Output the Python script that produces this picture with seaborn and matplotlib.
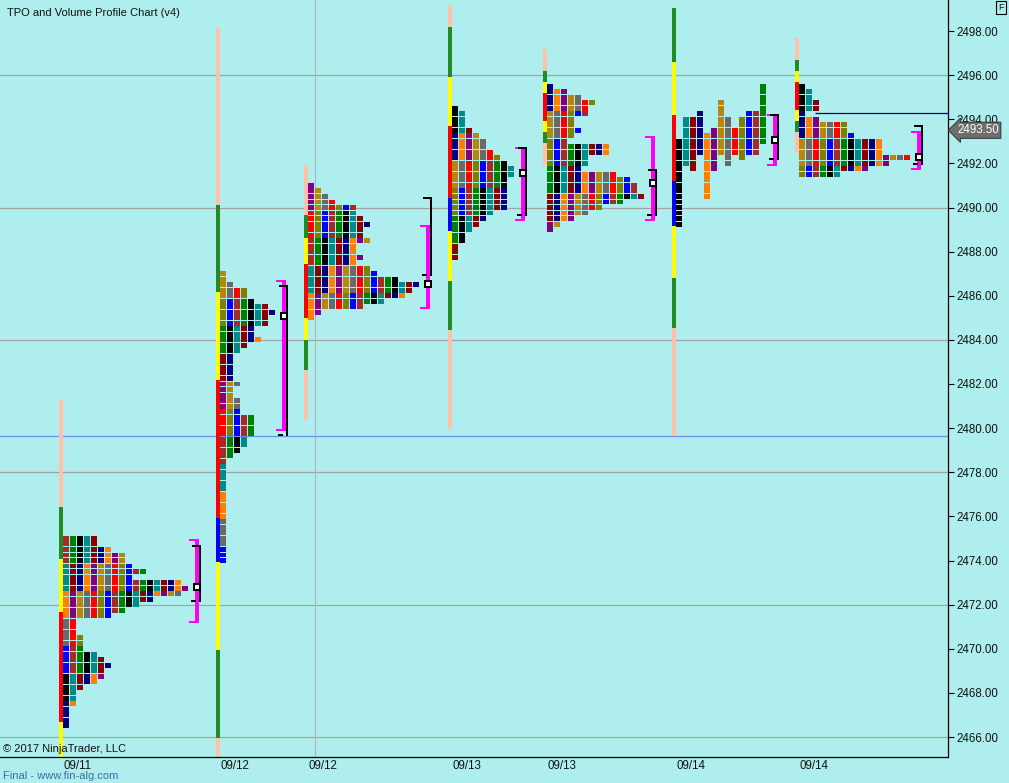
import numpy as np
import pandas as pd
import matplotlib
matplotlib.use("Agg")
import matplotlib.pyplot as plt
import matplotlib.transforms as mtransforms
from matplotlib.patches import Rectangle
import seaborn as sns

# ------------------------------------------------------------------ data
date_labels = ["09/11", "09/12", "09/12", "09/13", "09/13", "09/14", "09/14"]
price_ticks = list(range(2466, 2499, 2))

# TPO counts per 0.25 price row, listed from the top row down
p1_top = 2475.0
p1_counts = [5, 5, 7, 9, 9, 10, 12, 10, 17, 18, 17, 13, 11, 9, 7, 2, 2, 2, 3, 3, 3,
             5, 6, 7, 6, 6, 5, 3, 2, 2, 2, 1, 1, 1, 1]
p2_top = 2487.0
p2_counts = [1, 1, 2, 4, 4, 5, 7, 8, 7, 7, 5, 5, 6, 4, 3, 2, 2, 2, 2, 2, 3, 2, 2, 3, 3,
             3, 5, 5, 5, 5, 4, 4, 3, 2, 1, 1, 1, 1, 1, 1, 1, 1, 1, 1, 1, 1, 1, 1, 1,
             1, 1, 1, 1]
p3_top = 2491.0
p3_counts = [1, 2, 3, 4, 7, 7, 8, 9, 8, 8, 9, 7, 7, 8, 7, 9, 10, 13, 16, 15, 14, 11, 8, 2, 1]
p4_top = 2494.5
p4_counts = [1, 2, 2, 2, 3, 4, 5, 5, 6, 7, 8, 9, 9, 8, 8, 8, 8, 8, 8, 6, 5, 4, 3, 2, 2, 1, 1, 1]
p5_top = 2495.5
p5_counts = [1, 3, 5, 7, 6, 6, 4, 4, 5, 4, 3, 9, 9, 6, 6, 5, 10, 12, 13, 13, 14, 11, 8, 6, 4, 2, 1]
# 09/14 first session is drawn unsplit: one column per period (high / low)
p6_col_high = [2493.0, 2494.0, 2494.0, 2494.25, 2493.25, 2493.5, 2494.75, 2494.0, 2493.5,
               2494.0, 2494.25, 2494.25, 2495.5]
p6_col_low = [2489.25, 2492.0, 2491.75, 2492.5, 2490.5, 2491.75, 2492.5, 2492.0, 2492.5,
              2492.25, 2492.5, 2492.5, 2493.0]
p7_top = 2495.5
p7_counts = [1, 2, 2, 3, 3, 1, 3, 7, 7, 8, 12, 12, 12, 16, 13, 10, 6]

# value area (magenta), initial balance (black), point of control
va_high = [2474.97, 2486.71, 2489.21, 2492.74, 2493.24, 2494.24, 2493.47]
va_low = [2471.16, 2479.88, 2485.40, 2489.39, 2489.39, 2491.88, 2491.70]
ib_high = [2474.70, 2486.49, 2490.48, 2492.74, 2491.74, 2494.24, 2493.74]
ib_low = [2472.12, 2479.64, 2486.89, 2489.61, 2489.61, 2492.15, 2491.93]
poc = [2472.80, 2485.08, 2486.55, 2491.56, 2491.09, 2493.08, 2492.31]

# session bar segments (boundaries top->bottom, one colour key per segment)
bar_bounds = [
    [2481.27, 2476.42, 2474.07, 2471.66, 2466.68, 2465.0],
    [2498.14, 2490.11, 2486.17, 2482.18, 2475.92, 2473.93, 2469.94, 2465.95, 2465.0],
    [2491.93, 2489.66, 2488.62, 2487.44, 2484.99, 2483.99, 2482.63, 2480.37],
    [2499.18, 2498.18, 2495.91, 2493.69, 2490.43, 2488.93, 2486.67, 2484.45, 2479.96],
    [2497.18, 2496.19, 2495.69, 2495.19, 2493.92, 2493.42, 2492.92, 2491.93],
    [2499.04, 2496.59, 2494.19, 2491.20, 2489.16, 2486.80, 2484.54, 2479.69],
    [2497.68, 2496.69, 2496.19, 2495.69, 2494.42, 2493.92, 2493.42, 2492.47],
]
bar_keys = [
    ["S", "G", "Y", "R", "Y"],
    ["S", "G", "Y", "R", "B", "Y", "G", "S"],
    ["S", "G", "Y", "R", "Y", "G", "S"],
    ["S", "G", "Y", "R", "B", "Y", "G", "S"],
    ["S", "G", "Y", "R", "Y", "G", "S"],
    ["G", "Y", "R", "B", "Y", "G", "S"],
    ["S", "G", "Y", "R", "Y", "G", "S"],
]
reference_line = 2479.65
last_price_line = 2494.27
last_price = 2493.50

# ------------------------------------------------------------------ styles / layout
BG = "#AFEEEE"
period_colors = ["#000000", "#008B8B", "#8B0000", "#000080", "#FF8000", "#800080",
                 "#B8860B", "#696969", "#FF0000", "#808000", "#0000FF", "#A52A2A", "#008000"]
bar_colors = {"S": "#FFC1A8", "G": "#228B22", "Y": "#FFFF00", "R": "#FF0000", "B": "#0000FF"}
bar_x = [59, 216, 304, 448, 543, 672, 795]       # left edge of session bar (px units)
bracket_x = [195, 282, 426, 521, 651, 773, 917]  # left edge of value-area bar
start_offset = [11, 6, 5, 0, 3, 0, 0]

W, H = 1009, 783
AX_RIGHT, AX_BOTTOM = 948, 757
PPU = 706.0 / 32.0           # pixels per price point
y_lo = 2498 - (AX_BOTTOM - 31) / PPU
y_hi = 2498 + 31 / PPU

sns.set_theme(style="white")
plt.rcParams["font.family"] = ["Liberation Sans", "DejaVu Sans"]

fig = plt.figure(figsize=(W / 100, H / 100), dpi=100)
fig.patch.set_facecolor(BG)
ax = fig.add_axes([0, (H - AX_BOTTOM) / H, AX_RIGHT / W, AX_BOTTOM / H])
ax.set_facecolor(BG)
ax.set_xlim(0, AX_RIGHT)
ax.set_ylim(y_lo, y_hi)

# grid / reference lines
for g in [2466, 2472, 2478, 2484, 2490, 2496]:
    ax.axhline(g, color="#A3A3A3", lw=0.9, zorder=1)
ax.axhline(reference_line, color="#6D8FE8", lw=0.9, zorder=1)
ax.axvline(315, color="#B4B4B4", lw=0.8, zorder=1)
ax.hlines(last_price_line, 815, AX_RIGHT, color="#000080", lw=0.9, zorder=1)

# ------------------------------------------------------------------ TPO squares
recs = []
profiles = [(p1_top, p1_counts), (p2_top, p2_counts), (p3_top, p3_counts),
            (p4_top, p4_counts), (p5_top, p5_counts), None, (p7_top, p7_counts)]
for pi, prof in enumerate(profiles):
    if prof is None:
        continue
    top, counts = prof
    for r, n in enumerate(counts):
        price = top - 0.25 * r
        for c in range(n):
            k = (start_offset[pi] + c + (r // 5) * 3) % 13
            recs.append((bar_x[pi] + 4 + 7 * c + 3, price, str(k)))
for c, (hi, lo) in enumerate(zip(p6_col_high, p6_col_low)):
    n = int(round((hi - lo) / 0.25)) + 1
    for r in range(n):
        recs.append((bar_x[5] + 4 + 7 * c + 3, hi - 0.25 * r, str(c % 13)))
df = pd.DataFrame(recs, columns=["x", "price", "period"])
pal = {str(i): col for i, col in enumerate(period_colors)}
sns.scatterplot(data=df, x="x", y="price", hue="period", palette=pal,
                marker=[(-0.5, -0.42), (0.5, -0.42), (0.5, 0.42), (-0.5, 0.42)],
                s=18.0, linewidth=0, edgecolor="none", legend=False, ax=ax, zorder=3)

# ------------------------------------------------------------------ session bars
for pi in range(7):
    b = bar_bounds[pi]
    for j, key in enumerate(bar_keys[pi]):
        top, bot = b[j], b[j + 1]
        ax.bar(bar_x[pi] + 2, top - bot, bottom=bot, width=4, color=bar_colors[key],
               linewidth=0, zorder=2)

# ------------------------------------------------------------------ brackets
px = 1.0 / PPU
for pi in range(7):
    mx = bracket_x[pi]
    # value area
    ax.bar(mx + 2, va_high[pi] - va_low[pi], bottom=va_low[pi], width=4,
           color="#FF00FF", linewidth=0, zorder=4)
    ax.bar(mx - 1, 2 * px, bottom=va_high[pi] - 2 * px, width=10, color="#FF00FF", linewidth=0, zorder=4)
    ax.bar(mx - 1, 2 * px, bottom=va_low[pi], width=10, color="#FF00FF", linewidth=0, zorder=4)
    # initial balance
    ax.bar(mx + 5, ib_high[pi] - ib_low[pi], bottom=ib_low[pi], width=2,
           color="black", linewidth=0, zorder=5)
    ax.bar(mx + 1, 2 * px, bottom=ib_high[pi] - 2 * px, width=8, color="black", linewidth=0, zorder=5)
    ax.bar(mx - 1, 2 * px, bottom=ib_low[pi], width=5, color="black", linewidth=0, zorder=5)
    # point of control marker
    ax.add_patch(Rectangle((mx - 1, poc[pi] - 3 * px), 6, 6 * px, facecolor="white",
                           edgecolor="black", lw=1.44, zorder=6))

# ------------------------------------------------------------------ axes cosmetics
for s in ["left", "top"]:
    ax.spines[s].set_visible(False)
for s in ["right", "bottom"]:
    ax.spines[s].set_visible(True)
    ax.spines[s].set_color("black")
    ax.spines[s].set_linewidth(0.9)
ax.yaxis.tick_right()
ax.set_yticks(price_ticks)
ax.set_yticklabels([f"{v:.2f}" for v in price_ticks])
ax.tick_params(axis="y", direction="out", length=4, width=0.8, color="black",
               pad=2, labelsize=8.3, labelcolor="#111111", right=True, left=False)
ax.set_xticks([x + 19 for x in bar_x])
ax.set_xticklabels(date_labels)
ax.tick_params(axis="x", length=0, pad=2.5, labelsize=8.3, labelcolor="#111111")
ax.set_xlabel("")
ax.set_ylabel("")
ax.grid(False)

# last price flag
trans = mtransforms.blended_transform_factory(ax.transAxes, ax.transData)
ax.text(1 + 9 / AX_RIGHT, last_price, f"{last_price:.2f}", transform=trans, ha="left",
        va="center", fontsize=8.3, color="white", zorder=10, clip_on=False,
        bbox=dict(boxstyle="larrow,pad=0.18", fc="#6E6E6E", ec="#3C3C3C", lw=0.8))

# texts
fig.text(7 / W, 1 - 12.5 / H, "TPO and Volume Profile Chart (v4)", fontsize=8,
         color="#111111", va="center", ha="left")
fig.text(3 / W, 1 - 749.5 / H, "\u00a9 2017 NinjaTrader, LLC", fontsize=8,
         color="#111111", va="center", ha="left")
fig.text(3 / W, 1 - 776 / H, "Final - www.fin-alg.com", fontsize=8,
         color="#3A6EA5", va="center", ha="left")
fig.text(1001 / W, 1 - 7.5 / H, "F", fontsize=6.5, color="#111111", va="center",
         ha="center", bbox=dict(boxstyle="square,pad=0.25", fc="none", ec="black", lw=0.8))

fig.savefig("out.png", dpi=100, facecolor=BG)
